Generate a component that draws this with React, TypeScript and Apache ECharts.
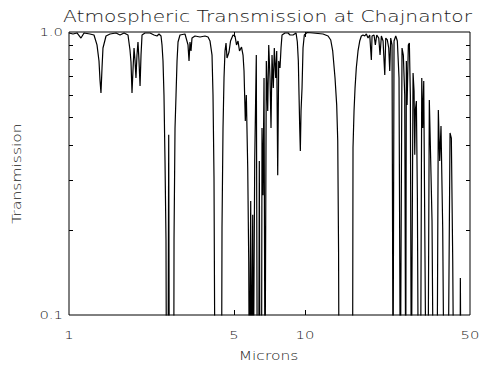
import React, { useEffect, useRef } from "react";
import * as echarts from "echarts";

// Wavelength (microns) and atmospheric transmission
const microns = [
  1.0, 1.04, 1.081, 1.124, 1.158, 1.227, 1.276, 1.314, 1.34, 1.353, 1.366, 1.38, 1.393, 1.435, 1.492, 1.582,
  1.645, 1.711, 1.778, 1.813, 1.831, 1.849, 1.867, 1.886, 1.904, 1.922, 1.941, 1.96, 1.979, 2.0, 2.019, 2.039,
  2.099, 2.204, 2.292, 2.36, 2.406, 2.454, 2.478, 2.502, 2.526, 2.551, 2.576, 2.588, 2.627, 2.645, 2.661, 2.778,
  2.786, 2.813, 2.841, 2.869, 2.897, 2.953, 3.101, 3.193, 3.225, 3.256, 3.288, 3.32, 3.419, 3.59, 3.77, 3.882,
  3.958, 4.036, 4.075, 4.115, 4.155, 4.428, 4.449, 4.493, 4.537, 4.581, 4.627, 4.672, 4.764, 4.834, 4.954, 5.051,
  5.126, 5.201, 5.278, 5.382, 5.462, 5.515, 5.585, 5.64, 5.718, 5.774, 5.808, 5.847, 5.887, 5.922, 5.962, 6.003,
  6.038, 6.122, 6.217, 6.278, 6.364, 6.402, 6.445, 6.541, 6.573, 6.637, 6.703, 6.768, 6.801, 6.855, 6.949, 7.018,
  7.107, 7.176, 7.247, 7.339, 7.411, 7.512, 7.587, 7.661, 7.736, 7.835, 7.912, 7.99, 8.227, 8.472, 8.64, 8.896,
  9.162, 9.277, 9.368, 9.432, 9.496, 9.553, 9.618, 9.712, 9.807, 9.931, 10.2, 10.81, 11.92, 12.52, 12.85, 13.1,
  13.4, 13.62, 13.76, 13.87, 13.94, 15.9, 15.97, 16.13, 16.29, 16.49, 16.77, 17.05, 17.32, 17.61, 17.91, 18.19,
  18.49, 18.8, 19.1, 19.23, 19.61, 19.86, 20.13, 20.53, 20.79, 21.06, 21.41, 21.77, 21.98, 22.32, 22.63, 22.85,
  23.07, 23.37, 23.6, 23.83, 24.23, 24.61, 25.02, 25.34, 25.76, 26.09, 26.45, 26.71, 26.87, 27.06, 27.4, 27.67,
  27.94, 28.21, 28.69, 28.97, 29.17, 29.34, 29.63, 29.92, 30.21, 30.86, 31.23, 31.53, 31.84, 32.24, 32.56, 33.19,
  33.62, 34.08, 34.52, 34.96, 36.24, 36.71, 37.21, 37.68, 38.31, 38.82, 40.36, 41.15, 41.68, 42.25, 42.67, 45.38,
  45.51, 45.81, 50.0,
];

const transmission = [
  0.992, 0.984, 0.992, 0.952, 0.992, 0.984, 0.976, 0.9, 0.79, 0.677, 0.609, 0.746, 0.878, 0.968, 0.984, 0.992,
  0.976, 0.992, 0.976, 0.864, 0.783, 0.609, 0.734, 0.878, 0.796, 0.688, 0.829, 0.922, 0.796, 0.644, 0.829, 0.976,
  0.992, 0.992, 0.976, 0.968, 0.984, 0.968, 0.9, 0.79, 0.599, 0.353, 0.184, 0.05, 0.05, 0.433, 0.05, 0.05,
  0.184, 0.458, 0.599, 0.79, 0.922, 0.976, 0.984, 0.9, 0.79, 0.922, 0.857, 0.952, 0.968, 0.96, 0.968, 0.96,
  0.929, 0.829, 0.599, 0.305, 0.05, 0.05, 0.203, 0.458, 0.688, 0.857, 0.914, 0.809, 0.85, 0.929, 0.976, 0.968,
  0.9, 0.929, 0.857, 0.885, 0.829, 0.728, 0.485, 0.599, 0.331, 0.155, 0.05, 0.05, 0.253, 0.05, 0.05, 0.226,
  0.05, 0.353, 0.829, 0.05, 0.05, 0.35, 0.05, 0.05, 0.458, 0.265, 0.688, 0.05, 0.05, 0.79, 0.526, 0.9,
  0.688, 0.458, 0.829, 0.634, 0.878, 0.688, 0.857, 0.312, 0.79, 0.746, 0.878, 0.976, 0.992, 0.992, 0.976, 0.976,
  0.992, 0.922, 0.79, 0.599, 0.458, 0.38, 0.526, 0.634, 0.878, 0.976, 0.996, 0.992, 0.984, 0.968, 0.937, 0.857,
  0.688, 0.552, 0.412, 0.17, 0.05, 0.05, 0.389, 0.526, 0.634, 0.746, 0.857, 0.929, 0.968, 0.976, 0.968, 0.984,
  0.952, 0.976, 0.796, 0.968, 0.976, 0.9, 0.976, 0.952, 0.829, 0.968, 0.929, 0.705, 0.952, 0.937, 0.878, 0.728,
  0.952, 0.9, 0.05, 0.929, 0.968, 0.929, 0.688, 0.05, 0.878, 0.829, 0.599, 0.05, 0.79, 0.552, 0.9, 0.914,
  0.599, 0.05, 0.716, 0.619, 0.368, 0.53, 0.57, 0.265, 0.05, 0.05, 0.688, 0.458, 0.671, 0.155, 0.05, 0.05,
  0.575, 0.35, 0.215, 0.05, 0.05, 0.53, 0.35, 0.465, 0.203, 0.05, 0.05, 0.44, 0.422, 0.155, 0.05, 0.05,
  0.135, 0.05, 0.05,
];

const xTickValues = [1, 5, 10, 50];
const xTickLabels = ["1", "5", "10", "50"];
const xInnerTicks = [5, 10];
const yTickValues = [0.1, 1.0];
const yTickLabels = ["0.1", "1.0"];
const yMinorTicks = [0.2, 0.3, 0.4, 0.5, 0.6, 0.7, 0.8, 0.9];

const titleText = "Atmospheric Transmission at Chajnantor";
const xName = "Microns";
const yName = "Transmission";

const FONT = "DejaVu Sans";
const INK = "#1a1a1a";

export default function App() {
  const ref = useRef<HTMLDivElement>(null);

  useEffect(() => {
    const el = ref.current;
    if (!el) return;
    const chart = echarts.init(el, null, { renderer: "svg" });
    const data = microns.map((m, i) => [m, transmission[i]]);

    chart.setOption({
      animation: false,
      backgroundColor: "#ffffff",
      grid: {
        left: 69,
        right: 9,
        top: 32,
        bottom: 52,
        show: true,
        borderColor: "#000",
        borderWidth: 1,
        backgroundColor: "transparent",
      },
      xAxis: {
        type: "log",
        logBase: 10,
        min: 1,
        max: 50,
        axisLine: { show: false },
        axisTick: { show: false },
        axisLabel: { show: false },
        splitLine: { show: false },
        minorTick: { show: false },
      },
      yAxis: {
        type: "log",
        logBase: 10,
        min: 0.1,
        max: 1,
        axisLine: { show: false },
        axisTick: { show: false },
        axisLabel: { show: false },
        splitLine: { show: false },
      },
      series: [
        {
          type: "line",
          data,
          symbol: "none",
          showSymbol: false,
          clip: true,
          silent: true,
          lineStyle: { color: "#000", width: 1.2 },
        },
      ],
    });

    const px = (v: number) => chart.convertToPixel({ xAxisIndex: 0 }, v) as number;
    const py = (v: number) => chart.convertToPixel({ yAxisIndex: 0 }, v) as number;
    const left = Math.round(px(1));
    const right = Math.round(px(50));
    const top = Math.round(py(1));
    const bottom = Math.round(py(0.1));

    const graphics: any[] = [];
    const tickStyle = { stroke: "#000", lineWidth: 1 };

    yMinorTicks.forEach((v) => {
      const y = Math.round(py(v)) + 0.5;
      graphics.push({ type: "line", silent: true, shape: { x1: left, y1: y, x2: left + 4, y2: y }, style: tickStyle });
      graphics.push({ type: "line", silent: true, shape: { x1: right - 4, y1: y, x2: right, y2: y }, style: tickStyle });
    });
    xInnerTicks.forEach((v) => {
      const x = Math.round(px(v)) + 0.5;
      graphics.push({ type: "line", silent: true, shape: { x1: x, y1: bottom, x2: x, y2: bottom - 5 }, style: tickStyle });
      graphics.push({ type: "line", silent: true, shape: { x1: x, y1: top, x2: x, y2: top + 5 }, style: tickStyle });
    });

    const txt = (text: string, x: number, y: number, size: number, sx: number, align: string, rot = 0) => ({
      type: "text",
      silent: true,
      x,
      y,
      rotation: rot,
      scaleX: sx,
      scaleY: 1,
      style: {
        text,
        fontFamily: FONT,
        fontWeight: 300,
        fontSize: size,
        fill: INK,
        align,
        verticalAlign: "middle",
      },
    });

    xTickValues.forEach((v, i) => {
      graphics.push(txt(xTickLabels[i], px(v), 335, 11, 1.35, "center"));
    });
    yTickValues.forEach((v, i) => {
      graphics.push(txt(yTickLabels[i], 63, py(v), 11, 1.35, "right"));
    });

    graphics.push(txt(titleText, (left + right) / 2 - 2, 17, 15, 1.35, "center"));
    graphics.push(txt(xName, (left + right) / 2 - 1, 356, 11.5, 1.35, "center"));
    graphics.push(txt(yName, 17, (top + bottom) / 2, 11.5, 1.35, "center", Math.PI / 2));

    chart.setOption({ graphic: graphics });

    return () => chart.dispose();
  }, []);

  return (
    <div
      ref={ref}
      style={{ position: "fixed", left: 0, top: 0, width: 479, height: 367, background: "#fff" }}
    />
  );
}
